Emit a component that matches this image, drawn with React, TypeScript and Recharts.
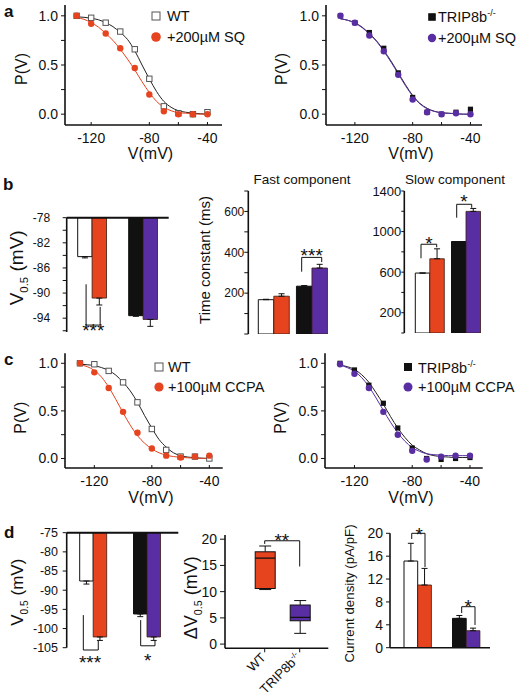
import React from "react";
import {
  Bar,
  BarChart,
  Cell,
  ComposedChart,
  ErrorBar,
  Legend,
  Line,
  ReferenceDot,
  ReferenceLine,
  Scatter,
  XAxis,
  YAxis,
} from "recharts";

const FONT = '"Liberation Sans", Arial, Helvetica, sans-serif';
const INK = "#111";
const RED = "#e6431f";
const PURPLE = "#5a2ea3";
const OPEN = "#555";
const AXIS = { stroke: INK, strokeWidth: 1.6 };

// test potentials (mV) and the potentials where the fitted curves were read
const steps = [-130, -120, -110, -100, -90, -80, -70, -60, -50, -40];
const fitV = [-130, -125, -120, -115, -110, -105, -100, -95, -90, -85, -80, -75, -70, -65, -60, -55, -50, -45, -40];

// a: 200 µM SQ
const aWt = [1.0, 0.98, 0.93, 0.84, 0.66, 0.36, 0.08, 0.01, 0.0, 0.02];
const aWtSq = [1.0, 0.92, 0.82, 0.67, 0.47, 0.2, 0.03, 0.0, 0.0, 0.0];
const aWtFit = [0.99, 0.985, 0.975, 0.96, 0.93, 0.89, 0.83, 0.76, 0.645, 0.5, 0.36, 0.23, 0.13, 0.07, 0.035, 0.02, 0.01, 0.005, 0.0];
const aWtSqFit = [0.98, 0.965, 0.93, 0.885, 0.82, 0.75, 0.66, 0.56, 0.45, 0.33, 0.22, 0.13, 0.07, 0.035, 0.015, 0.01, 0.005, 0.0, 0.0];
const aKo = [1.0, 0.93, 0.83, 0.67, 0.42, 0.17, 0.02, 0.0, 0.02, 0.05];
const aKoSq = [1.0, 0.93, 0.8, 0.64, 0.4, 0.15, 0.02, 0.0, 0.01, 0.0];
const aKoFit = [0.97, 0.955, 0.93, 0.885, 0.82, 0.745, 0.65, 0.54, 0.42, 0.3, 0.19, 0.11, 0.06, 0.03, 0.015, 0.01, 0.005, 0.0, 0.0];
const aKoSqFit = [0.97, 0.955, 0.925, 0.88, 0.815, 0.74, 0.64, 0.53, 0.41, 0.29, 0.185, 0.105, 0.055, 0.028, 0.014, 0.008, 0.004, 0.0, 0.0];

// c: 100 µM CCPA
const cWt = [1.0, 0.99, 0.92, 0.8, 0.59, 0.31, 0.09, 0.02, 0.02, 0.0];
const cWtCc = [1.0, 0.905, 0.74, 0.49, 0.27, 0.105, 0.03, 0.01, 0.02, 0.03];
const cWtFit = [0.99, 0.985, 0.975, 0.955, 0.925, 0.875, 0.8, 0.71, 0.59, 0.45, 0.32, 0.2, 0.12, 0.06, 0.03, 0.015, 0.007, 0.003, 0.0];
const cWtCcFit = [0.985, 0.965, 0.925, 0.855, 0.75, 0.62, 0.48, 0.35, 0.24, 0.16, 0.1, 0.06, 0.035, 0.02, 0.012, 0.007, 0.004, 0.002, 0.0];
const cKo = [1.0, 0.93, 0.77, 0.58, 0.32, 0.11, 0.0, -0.01, 0.0, 0.01];
const cKoCc = [0.99, 0.89, 0.74, 0.49, 0.25, 0.08, -0.01, 0.02, 0.03, 0.03];
const cKoFit = [0.98, 0.965, 0.935, 0.88, 0.8, 0.69, 0.57, 0.44, 0.32, 0.22, 0.14, 0.09, 0.05, 0.03, 0.02, 0.015, 0.01, 0.01, 0.01];
const cKoCcFit = [0.98, 0.955, 0.915, 0.85, 0.755, 0.635, 0.505, 0.38, 0.27, 0.18, 0.115, 0.075, 0.05, 0.04, 0.035, 0.03, 0.03, 0.03, 0.03];

// bar groups
const groups = ["WT", "TRIP8b-/-"];

// b: V0.5 (mV), control vs SQ
const bV05 = [-84.2, -93.6];
const bV05Sq = [-90.8, -94.2];
const bV05Err = [0.2, 0.1];
const bV05SqErr = [1.1, 1.1];

// b: activation time constants (ms)
const fastTau = [168, 234];
const fastTauSq = [185, 323];
const fastTauErr = [2, 3];
const fastTauSqErr = [12, 18];
const slowTau = [591, 902];
const slowTauSq = [732, 1199];
const slowTauErr = [0, 0];
const slowTauSqErr = [98, 29];

// d: V0.5 (mV), control vs CCPA
const dV05 = [-87.6, -96.2];
const dV05Cc = [-102.2, -102.2];
const dV05Err = [0.8, 0.7];
const dV05CcErr = [0.9, 0.9];

// d: ΔV0.5 box plot
const shiftMin = [10.4, 2.05];
const shiftQ1 = [10.6, 4.45];
const shiftMed = [16.4, 5.1];
const shiftQ3 = [17.6, 7.45];
const shiftMax = [18.7, 8.3];

// d: current density (pA/pF)
const density = [15.15, 5.13];
const densityCc = [10.96, 2.97];
const densityErr = [3.1, 0.5];
const densityCcErr = [2.9, 0.45];

type Seg = [number, number, number, number];
type Star = { x: number; y: number; t: string };
type Part = [string, "n" | "sub" | "sup"];

// significance marks: x in group units (0..2 across the two groups), y in axis units
const bV05Brackets: Seg[] = [
  [0.38, -88.6, 0.38, -95.1],
  [0.38, -95.1, 0.656, -95.1],
  [0.656, -95.1, 0.656, -92.2],
];
const bV05Stars: Star[] = [{ x: 0.52, y: -95.3, t: "***" }];
const fastBrackets: Seg[] = [
  [1.242, 305, 1.242, 375],
  [1.242, 375, 1.767, 375],
  [1.767, 375, 1.767, 352],
];
const fastStars: Star[] = [{ x: 1.505, y: 403, t: "***" }];
const slowBrackets: Seg[] = [
  [0.268, 737, 0.268, 875],
  [0.268, 875, 0.702, 875],
  [0.702, 875, 0.702, 845],
  [1.254, 1137, 1.254, 1269],
  [1.254, 1269, 1.669, 1269],
  [1.669, 1269, 1.669, 1235],
];
const slowStars: Star[] = [
  { x: 0.49, y: 923, t: "*" },
  { x: 1.456, y: 1334, t: "*" },
];
const dV05Brackets: Seg[] = [
  [0.309, -96.5, 0.309, -105.6],
  [0.309, -105.6, 0.587, -105.6],
  [0.587, -105.6, 0.587, -103.2],
  [1.375, -97.8, 1.375, -104.5],
  [1.375, -104.5, 1.641, -104.5],
  [1.641, -104.5, 1.641, -103.1],
];
const dV05Stars: Star[] = [
  { x: 0.433, y: -107.8, t: "***" },
  { x: 1.505, y: -107.3, t: "*" },
];
const shiftBrackets: Seg[] = [
  [0.5, 19.1, 0.5, 19.7],
  [0.5, 19.7, 1.5, 19.7],
  [1.5, 19.7, 1.5, 14.8],
];
const shiftStars: Star[] = [{ x: 0.99, y: 20.6, t: "**" }];
const densityBrackets: Seg[] = [
  [0.386, 19.0, 0.386, 20],
  [0.386, 20, 0.66, 20],
  [0.66, 20, 0.66, 14.1],
  [1.416, 6.06, 1.416, 7.17],
  [1.416, 7.17, 1.691, 7.17],
  [1.691, 7.17, 1.691, 3.97],
];
const densityStars: Star[] = [
  { x: 0.542, y: 20.6, t: "*" },
  { x: 1.553, y: 8.0, t: "*" },
];

const ctrlFill = ["#ffffff", INK];
const sqFill = [RED, PURPLE];
const boxFill = [RED, PURPLE];

function renderParts(list: Part[], size: number) {
  let shift = 0;
  return list.map(([t, k], i) => {
    const target = k === "sub" ? size * 0.28 : k === "sup" ? -size * 0.4 : 0;
    const dy = target - shift;
    shift = target;
    return (
      <tspan key={i} dy={dy} fontSize={k === "n" ? size : size * 0.6}>
        {t}
      </tspan>
    );
  });
}

function splitSup(label: string): Part[] {
  if (label.endsWith("-/-")) return [[label.slice(0, -3), "n"], ["-/-", "sup"]];
  return [[label, "n"]];
}

const yTitle = (list: Part[], size: number, dx: number, dy: number) => (props: any) => {
  const vb = props.viewBox || { x: 0, y: 0, height: 0 };
  const x = vb.x + dx;
  const y = vb.y + vb.height / 2 + dy;
  return (
    <text x={x} y={y} dy={size * 0.35} transform={`rotate(-90 ${x} ${y})`} textAnchor="middle" fill={INK} fontFamily={FONT}>
      {renderParts(list, size)}
    </text>
  );
};

const xTitle = (text: string, size: number, dx: number, dy: number) => (props: any) => {
  const vb = props.viewBox || { x: 0, y: 0, width: 0 };
  return (
    <text x={vb.x + vb.width / 2 + dx} y={vb.y + dy} dy="0.35em" textAnchor="middle" fontSize={size} fill={INK} fontFamily={FONT}>
      {text}
    </text>
  );
};

const starLabel = (t: string) => (props: any) => {
  const vb = props.viewBox || { x: 0, y: 0 };
  return (
    <text x={vb.x + (vb.width || 0) / 2} y={vb.y + (vb.height || 0) / 2} dy="0.56em" textAnchor="middle" fontSize={19} fill={INK} fontFamily={FONT}>
      {t}
    </text>
  );
};

// brackets and stars sit on a hidden 0..1 axis spanning both groups
function bracketLines(list: Seg[]) {
  return list.map((s, i) => (
    <ReferenceLine
      key={"b" + i}
      xAxisId="n"
      segment={[
        { x: s[0] / 2, y: s[1] },
        { x: s[2] / 2, y: s[3] },
      ]}
      stroke={INK}
      strokeWidth={1}
      ifOverflow="visible"
    />
  ));
}

function starDots(list: Star[]) {
  return list.map((s, i) => (
    <ReferenceDot key={"s" + i} xAxisId="n" x={s.x / 2} y={s.y} r={0} fill="none" stroke="none" ifOverflow="visible" label={starLabel(s.t)} />
  ));
}

const InTick = (props: any) => {
  const { x, y, payload } = props;
  const show = [-120, -80, -40].includes(payload.value);
  return (
    <g>
      <line x1={x} x2={x} y1={y - 8} y2={y - 11} stroke={INK} strokeWidth={1} />
      {show && (
        <text x={x} y={y} dy="0.71em" textAnchor="middle" fontSize={14} fill={INK} fontFamily={FONT}>
          {payload.value}
        </text>
      )}
    </g>
  );
};

const SlantTick = (props: any) => {
  const { x, y, payload } = props;
  return (
    <g>
      <line x1={x} x2={x} y1={y} y2={y + 4} stroke={INK} strokeWidth={1} />
      <text x={x + 2} y={y + 10} transform={`rotate(-45 ${x + 2} ${y + 10})`} textAnchor="end" fill={INK} fontFamily={FONT}>
        {renderParts(splitSup(payload.value), 13)}
      </text>
    </g>
  );
};

const openSquare = (p: any) => (
  <rect x={p.cx - 2.7} y={p.cy - 2.7} width={5.4} height={5.4} fill="#fff" stroke={OPEN} strokeWidth={1} />
);
const filledSquare = (p: any) => <rect x={p.cx - 2.6} y={p.cy - 2.6} width={5.2} height={5.2} fill={INK} />;
const dot = (color: string) => (p: any) => <circle cx={p.cx} cy={p.cy} r={3.2} fill={color} />;

type LegendSpec = { cx: number; cy: number; row: number; textX: number; labels: Part[][]; sq: number; r: number };

const LegendList = ({ spec, open, color }: { spec: LegendSpec; open: boolean; color: string }) => (
  <div style={{ fontFamily: FONT, fontSize: 14.5, color: INK, whiteSpace: "nowrap" }}>
    {spec.labels.map((lab, i) => (
      <div key={i} style={{ display: "flex", alignItems: "center", height: spec.row }}>
        <svg width={12} height={12} style={{ flex: "none", marginRight: spec.textX - spec.cx - 6 }}>
          {i === 0 ? (
            <rect
              x={6 - spec.sq / 2}
              y={6 - spec.sq / 2}
              width={spec.sq}
              height={spec.sq}
              fill={open ? "#fff" : INK}
              stroke={open ? OPEN : INK}
              strokeWidth={1}
            />
          ) : (
            <circle cx={6} cy={6} r={spec.r} fill={color} />
          )}
        </svg>
        <span>
          {lab.map(([t, k], j) =>
            k === "sup" ? (
              <sup key={j} style={{ fontSize: 9, verticalAlign: 6 }}>
                {t}
              </sup>
            ) : (
              <span key={j}>{t}</span>
            )
          )}
        </span>
      </div>
    ))}
  </div>
);

type PvProps = {
  left: number;
  top: number;
  height: number;
  yW: number;
  mTop: number;
  mRight: number;
  xDomain: [number, number];
  yDomain: [number, number];
  ctrl: number[];
  drug: number[];
  ctrlFit: number[];
  drugFit: number[];
  open: boolean;
  color: string;
  legend: LegendSpec;
  pDx: number;
  pDy: number;
  vDy: number;
};

function PvChart(p: PvProps) {
  const ctrlPts = steps.map((v, i) => ({ v, p: p.ctrl[i] }));
  const drugPts = steps.map((v, i) => ({ v, p: p.drug[i] }));
  const ctrlCurve = fitV.map((v, i) => ({ v, p: p.ctrlFit[i] }));
  const drugCurve = fitV.map((v, i) => ({ v, p: p.drugFit[i] }));
  return (
    <div style={{ position: "absolute", left: p.left, top: p.top }}>
      <ComposedChart
        width={260}
        height={p.height}
        margin={{ top: p.mTop, right: p.mRight, bottom: 0, left: 0 }}
        style={{ fontFamily: FONT }}
      >
        <XAxis
          type="number"
          dataKey="v"
          domain={p.xDomain}
          allowDataOverflow
          ticks={[-120, -100, -80, -60, -40]}
          tick={InTick}
          tickSize={0}
          tickMargin={8}
          tickLine={false}
          axisLine={AXIS}
          height={45}
          label={xTitle("V(mV)", 16, 7, p.vDy)}
        />
        <YAxis
          type="number"
          dataKey="p"
          domain={p.yDomain}
          allowDataOverflow
          ticks={[0, 0.25, 0.5, 0.75, 1]}
          tickFormatter={(v: number) => ((v * 2) % 1 === 0 ? v.toFixed(1) : "")}
          width={p.yW}
          tick={{ fill: INK, fontSize: 14 }}
          tickSize={4}
          tickMargin={3}
          tickLine={{ stroke: INK }}
          axisLine={AXIS}
          label={yTitle([["P(V)", "n"]], 16, p.pDx, p.pDy)}
        />
        <Line data={ctrlCurve} dataKey="p" type="monotone" stroke="#222" strokeWidth={1} dot={false} isAnimationActive={false} />
        <Line data={drugCurve} dataKey="p" type="monotone" stroke={p.color} strokeWidth={1} dot={false} isAnimationActive={false} />
        <Scatter data={ctrlPts} dataKey="p" shape={p.open ? openSquare : filledSquare} isAnimationActive={false} />
        <Scatter data={drugPts} dataKey="p" shape={dot(p.color)} isAnimationActive={false} />
        <Legend
          layout="vertical"
          align="center"
          verticalAlign="middle"
          wrapperStyle={{ left: p.legend.cx - 6, top: p.legend.cy - p.legend.row / 2, width: "auto" }}
          content={() => <LegendList spec={p.legend} open={p.open} color={p.color} />}
        />
      </ComposedChart>
    </div>
  );
}

type BarPanelProps = {
  box: { left: number; top: number; width: number; height: number };
  margin: { top: number; right: number; bottom: number };
  yW: number;
  domain: [number, number];
  ticks: number[];
  labeled: number[];
  tickFont: number;
  tickSize: number;
  tickMargin: number;
  pad: [number, number];
  barSize: number;
  ctrl: number[];
  drug: number[];
  ctrlErr: number[];
  drugErr: number[];
  down?: boolean;
  topLine?: number;
  bottomLine?: boolean;
  brackets: Seg[];
  stars: Star[];
  title?: (p: any) => React.ReactNode;
};

function BarPanel(p: BarPanelProps) {
  const rows = groups.map((g, i) => ({
    g,
    ctrl: p.ctrl[i],
    drug: p.drug[i],
    ctrlE: p.down ? [p.ctrlErr[i], 0] : [0, p.ctrlErr[i]],
    drugE: p.down ? [p.drugErr[i], 0] : [0, p.drugErr[i]],
  }));
  const pad = { left: p.pad[0], right: p.pad[1] };
  return (
    <div style={{ position: "absolute", left: p.box.left, top: p.box.top }}>
      <BarChart
        width={p.box.width}
        height={p.box.height}
        data={rows}
        margin={{ ...p.margin, left: 0 }}
        barGap={0}
        barSize={p.barSize}
        style={{ fontFamily: FONT }}
      >
        <XAxis
          dataKey="g"
          hide={!p.bottomLine}
          padding={pad}
          tick={false}
          tickLine={false}
          axisLine={AXIS}
          height={p.bottomLine ? 4 : 0}
        />
        <XAxis xAxisId="n" type="number" domain={[0, 1]} allowDataOverflow hide padding={pad} />
        <YAxis
          type="number"
          domain={p.domain}
          allowDataOverflow
          ticks={p.ticks}
          interval={0}
          tickFormatter={(v: number) => (p.labeled.includes(v) ? String(v) : "")}
          width={p.yW}
          tick={{ fill: INK, fontSize: p.tickFont }}
          tickSize={p.tickSize}
          tickMargin={p.tickMargin}
          tickLine={{ stroke: INK }}
          axisLine={AXIS}
          label={p.title}
        />
        <Bar dataKey="ctrl" stroke={INK} strokeWidth={1} isAnimationActive={false}>
          {rows.map((r, i) => (
            <Cell key={r.g} fill={ctrlFill[i]} />
          ))}
          <ErrorBar dataKey="ctrlE" width={3} stroke={INK} strokeWidth={1} isAnimationActive={false} />
        </Bar>
        <Bar dataKey="drug" stroke="#3a1a10" strokeWidth={0.8} isAnimationActive={false}>
          {rows.map((r, i) => (
            <Cell key={r.g} fill={sqFill[i]} />
          ))}
          <ErrorBar dataKey="drugE" width={3} stroke={INK} strokeWidth={1} isAnimationActive={false} />
        </Bar>
        {p.topLine !== undefined && <ReferenceLine y={p.topLine} stroke={INK} strokeWidth={2} ifOverflow="visible" />}
        {bracketLines(p.brackets)}
        {starDots(p.stars)}
      </BarChart>
    </div>
  );
}

const BoxShape = (props: any) => {
  const { x, y, width, height, payload, index } = props;
  const [q1, q3] = payload.q;
  const k = height / (q3 - q1);
  const py = (v: number) => y + (q3 - v) * k;
  const cx = x + width / 2;
  const cap = width * 0.3;
  return (
    <g>
      <line x1={cx} x2={cx} y1={py(payload.hi)} y2={py(q3)} stroke={INK} />
      <line x1={cx} x2={cx} y1={py(q1)} y2={py(payload.lo)} stroke={INK} />
      <line x1={cx - cap} x2={cx + cap} y1={py(payload.hi)} y2={py(payload.hi)} stroke={INK} />
      <line x1={cx - cap} x2={cx + cap} y1={py(payload.lo)} y2={py(payload.lo)} stroke={INK} />
      <rect x={x} y={y} width={width} height={height} fill={boxFill[index]} stroke={INK} strokeWidth={1} />
      <line x1={x} x2={x + width} y1={py(payload.med)} y2={py(payload.med)} stroke={INK} strokeWidth={1.2} />
    </g>
  );
};

function BoxPanel() {
  const rows = groups.map((g, i) => ({
    g,
    q: [shiftQ1[i], shiftQ3[i]],
    med: shiftMed[i],
    lo: shiftMin[i],
    hi: shiftMax[i],
  }));
  const pad = { left: 22.2, right: 11.1 };
  return (
    <div style={{ position: "absolute", left: 180, top: 500 }}>
      <BarChart width={160} height={199} data={rows} margin={{ top: 35, right: 11.7, bottom: 0, left: 0 }} barSize={20} style={{ fontFamily: FONT }}>
        <XAxis
          dataKey="g"
          padding={pad}
          height={50.7}
          tickSize={0}
          tickMargin={0}
          tickLine={false}
          axisLine={AXIS}
          tick={SlantTick}
          interval={0}
        />
        <XAxis xAxisId="n" type="number" domain={[0, 1]} allowDataOverflow hide padding={pad} />
        <YAxis
          type="number"
          domain={[-0.8, 20.8]}
          allowDataOverflow
          ticks={[0, 5, 10, 15, 20]}
          interval={0}
          width={45}
          tick={{ fill: INK, fontSize: 14 }}
          tickSize={5}
          tickMargin={3}
          tickLine={{ stroke: INK }}
          axisLine={AXIS}
          label={yTitle([["ΔV", "n"], ["0.5", "sub"], [" (mV)", "n"]], 18, 16.7, 6)}
        />
        <Bar dataKey="q" shape={BoxShape} isAnimationActive={false} />
        {bracketLines(shiftBrackets)}
        {starDots(shiftStars)}
      </BarChart>
    </div>
  );
}

const range = (a: number, b: number, step: number) => {
  const out: number[] = [];
  for (let v = a; v <= b + 1e-9; v += step) out.push(Math.round(v * 100) / 100);
  return out;
};

const V05: Part[] = [["V", "n"], ["0.5", "sub"], [" (mV)", "n"]];

export default function App() {
  return (
    <div
      style={{
        position: "absolute",
        left: 0,
        top: 0,
        width: 520,
        height: 699,
        background: "#fff",
        fontFamily: FONT,
        overflow: "hidden",
      }}
    >
      <PvChart
        left={0}
        top={0}
        height={170}
        yW={65}
        mTop={5}
        mRight={38}
        xDomain={[-138, -30]}
        yDomain={[-0.11, 1.11]}
        ctrl={aWt}
        drug={aWtSq}
        ctrlFit={aWtFit}
        drugFit={aWtSqFit}
        open
        color={RED}
        legend={{ cx: 155.5, cy: 15.7, row: 21.3, textX: 167, labels: [[["WT", "n"]], [["+200µM SQ", "n"]]], sq: 8, r: 4.8 }}
        pDx={27}
        pDy={4}
        vDy={28}
      />
      <PvChart
        left={260}
        top={0}
        height={170}
        yW={66}
        mTop={5}
        mRight={38}
        xDomain={[-140, -32]}
        yDomain={[-0.11, 1.11]}
        ctrl={aKo}
        drug={aKoSq}
        ctrlFit={aKoFit}
        drugFit={aKoSqFit}
        open={false}
        color={PURPLE}
        legend={{ cx: 171.7, cy: 17, row: 21.3, textX: 178, labels: [splitSup("TRIP8b-/-"), [["+200µM SQ", "n"]]], sq: 6.5, r: 4.2 }}
        pDx={27}
        pDy={4}
        vDy={28}
      />
      <PvChart
        left={0}
        top={335}
        height={178}
        yW={65}
        mTop={18.3}
        mRight={37.3}
        xDomain={[-140.4, -30.7]}
        yDomain={[-0.1, 1.105]}
        ctrl={cWt}
        drug={cWtCc}
        ctrlFit={cWtFit}
        drugFit={cWtCcFit}
        open
        color={RED}
        legend={{ cx: 158.5, cy: 31.7, row: 20, textX: 168, labels: [[["WT", "n"]], [["+100µM CCPA", "n"]]], sq: 8, r: 4.6 }}
        pDx={26}
        pDy={7}
        vDy={29}
      />
      <PvChart
        left={260}
        top={335}
        height={178}
        yW={65}
        mTop={18.3}
        mRight={37.3}
        xDomain={[-140.4, -31.2]}
        yDomain={[-0.1, 1.105]}
        ctrl={cKo}
        drug={cKoCc}
        ctrlFit={cKoFit}
        drugFit={cKoCcFit}
        open={false}
        color={PURPLE}
        legend={{ cx: 148.3, cy: 32.3, row: 19.5, textX: 158, labels: [splitSup("TRIP8b-/-"), [["+100µM CCPA", "n"]]], sq: 7, r: 4.5 }}
        pDx={26}
        pDy={7}
        vDy={29}
      />

      <BarPanel
        box={{ left: 0, top: 165, width: 175, height: 179 }}
        margin={{ top: 52.7, right: 6.3, bottom: 12 }}
        yW={66.7}
        domain={[-96.2, -78]}
        ticks={range(-96, -78, 2)}
        labeled={[-78, -82, -86, -90, -94]}
        tickFont={12}
        tickSize={4}
        tickMargin={12.5}
        pad={[0, 0]}
        barSize={14.4}
        ctrl={bV05}
        drug={bV05Sq}
        ctrlErr={bV05Err}
        drugErr={bV05SqErr}
        down
        topLine={-78}
        brackets={bV05Brackets}
        stars={bV05Stars}
        title={yTitle(V05, 19, 23, -7)}
      />
      <BarPanel
        box={{ left: 195, top: 165, width: 141, height: 173 }}
        margin={{ top: 26, right: 5.4, bottom: 4 }}
        yW={53.3}
        domain={[0, 700]}
        ticks={range(0, 700, 100)}
        labeled={[200, 400, 600]}
        tickFont={12}
        tickSize={4}
        tickMargin={0}
        pad={[6, 0]}
        barSize={15.5}
        ctrl={fastTau}
        drug={fastTauSq}
        ctrlErr={fastTauErr}
        drugErr={fastTauSqErr}
        brackets={fastBrackets}
        stars={fastStars}
        title={yTitle([["Time constant (ms)", "n"]], 15, 15, -2.5)}
      />
      <BarPanel
        box={{ left: 350, top: 165, width: 140, height: 172 }}
        margin={{ top: 26, right: 6.3, bottom: 4 }}
        yW={54.3}
        domain={[0, 1400]}
        ticks={range(0, 1400, 200)}
        labeled={[200, 600, 1000, 1400]}
        tickFont={13}
        tickSize={3}
        tickMargin={0}
        pad={[7, 0]}
        barSize={14.5}
        ctrl={slowTau}
        drug={slowTauSq}
        ctrlErr={slowTauErr}
        drugErr={slowTauSqErr}
        brackets={slowBrackets}
        stars={slowStars}
      />
      <BarPanel
        box={{ left: 0, top: 500, width: 183, height: 182 }}
        margin={{ top: 32.7, right: 4.7, bottom: 34.3 }}
        yW={66.7}
        domain={[-105, -75]}
        ticks={range(-105, -75, 5)}
        labeled={range(-105, -75, 5)}
        tickFont={12.5}
        tickSize={4}
        tickMargin={4.7}
        pad={[0, 4]}
        barSize={13.5}
        ctrl={dV05}
        drug={dV05Cc}
        ctrlErr={dV05Err}
        drugErr={dV05CcErr}
        down
        topLine={-75}
        brackets={dV05Brackets}
        stars={dV05Stars}
        title={yTitle(V05, 17, 23, 2)}
      />
      <BoxPanel />
      <BarPanel
        box={{ left: 340, top: 500, width: 160, height: 165 }}
        margin={{ top: 33.3, right: 10, bottom: 13.3 }}
        yW={50}
        domain={[0, 20]}
        ticks={range(0, 20, 4)}
        labeled={range(0, 20, 4)}
        tickFont={14}
        tickSize={4}
        tickMargin={3}
        pad={[3, 0]}
        barSize={13.7}
        ctrl={density}
        drug={densityCc}
        ctrlErr={densityErr}
        drugErr={densityCcErr}
        bottomLine
        brackets={densityBrackets}
        stars={densityStars}
        title={yTitle([["Current density (pA/pF)", "n"]], 13.3, 13.7, 3)}
      />

      <svg width={520} height={699} style={{ position: "absolute", left: 0, top: 0, pointerEvents: "none" }}>
        <g fontFamily={FONT} fontWeight="bold" fontSize={17} fill={INK}>
          <text x={4} y={17}>a</text>
          <text x={3} y={190}>b</text>
          <text x={4} y={365}>c</text>
          <text x={4} y={538}>d</text>
        </g>
        <g fontFamily={FONT} fontSize={13.5} fill={INK} textAnchor="middle">
          <text x={302} y={184}>Fast component</text>
          <text x={455} y={184}>Slow component</text>
        </g>
      </svg>
    </div>
  );
}
